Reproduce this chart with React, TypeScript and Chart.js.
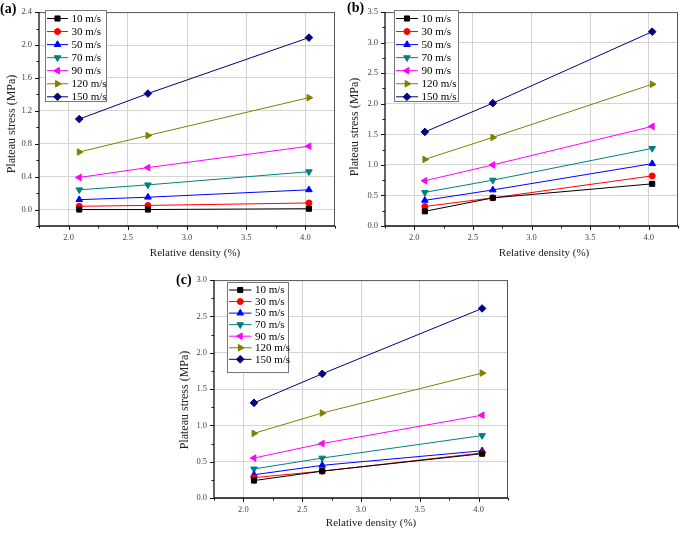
import React, { useEffect, useRef } from 'react';
import { Chart, registerables } from 'chart.js';
import { drawPoint } from 'chart.js/helpers';

Chart.register(...registerables);

// ---------- data ----------
const densities = [2.09, 2.67, 4.03];
const seriesLabels = ['10 m/s', '30 m/s', '50 m/s', '70 m/s', '90 m/s', '120 m/s', '150 m/s'];
const seriesColors = ['#000000', '#ff0000', '#0000ff', '#008080', '#ff00ff', '#808000', '#000080'];
const seriesShapes = ['rect', 'circle', 'triangle', 'triangle', 'triangle', 'triangle', 'rectRot'];
const seriesRotations = [0, 0, 0, 180, 270, 90, 0];
const seriesRadii = [3.6, 3, 3.8, 3.8, 3.8, 3.8, 3.8];

// panel (a)
const a10 = [0.0, 0.0, 0.01];
const a30 = [0.04, 0.05, 0.08];
const a50 = [0.12, 0.15, 0.24];
const a70 = [0.24, 0.3, 0.46];
const a90 = [0.39, 0.51, 0.77];
const a120 = [0.7, 0.9, 1.36];
const a150 = [1.1, 1.41, 2.09];

// panel (b)
const b10 = [0.24, 0.46, 0.69];
const b30 = [0.32, 0.46, 0.82];
const b50 = [0.42, 0.59, 1.02];
const b70 = [0.55, 0.75, 1.27];
const b90 = [0.74, 1.0, 1.63];
const b120 = [1.09, 1.45, 2.32];
const b150 = [1.54, 2.01, 3.18];

// panel (c)
const c10 = [0.24, 0.37, 0.61];
const c30 = [0.28, 0.37, 0.62];
const c50 = [0.32, 0.45, 0.65];
const c70 = [0.4, 0.55, 0.86];
const c90 = [0.55, 0.75, 1.14];
const c120 = [0.89, 1.17, 1.72];
const c150 = [1.31, 1.71, 2.61];

const xMin = 1.75;
const xMax = 4.25;
const xStep = 0.25;

const xTitle = 'Relative density (%)';
const yTitle = 'Plateau stress (MPa)';

const SERIF = "'Liberation Serif', 'Times New Roman', serif";

type PanelSpec = {
  letter: string;
  canvas: { left: number; top: number; width: number; height: number };
  area: { left: number; top: number; right: number; bottom: number };
  series: number[][];
  yMin: number;
  yMax: number;
  yStep: number;
  legend: { x0: number; x1: number; y0: number; y1: number; firstY: number; rowH: number; lineX0: number; lineX1: number; textX: number };
  yTitlePos: { x: number; y: number };
  xTitlePos: { x: number; y: number };
  letterPos: { x: number; y: number };
};

const panels: PanelSpec[] = [
  {
    letter: '(a)',
    canvas: { left: 0, top: 0, width: 342, height: 262 },
    area: { left: 39, top: 7, right: 335, bottom: 226 },
    series: [a10, a30, a50, a70, a90, a120, a150],
    yMin: -0.2,
    yMax: 2.4,
    yStep: 0.2,
    legend: { x0: 45, x1: 106, y0: 10, y1: 101, firstY: 18.5, rowH: 13.05, lineX0: 47, lineX1: 68, textX: 71.5 },
    yTitlePos: { x: 12, y: 124 },
    xTitlePos: { x: 195, y: 253 },
    letterPos: { x: 0, y: 9 },
  },
  {
    letter: '(b)',
    canvas: { left: 342, top: 0, width: 343, height: 262 },
    area: { left: 43, top: 5, right: 340, bottom: 226 },
    series: [b10, b30, b50, b70, b90, b120, b150],
    yMin: 0,
    yMax: 3.5,
    yStep: 0.25,
    legend: { x0: 52, x1: 116, y0: 10, y1: 101, firstY: 18.5, rowH: 13.05, lineX0: 54, lineX1: 76, textX: 79.5 },
    yTitlePos: { x: 13, y: 127 },
    xTitlePos: { x: 202, y: 253 },
    letterPos: { x: 5, y: 8 },
  },
  {
    letter: '(c)',
    canvas: { left: 160, top: 268, width: 360, height: 265 },
    area: { left: 54, top: 11, right: 348, bottom: 230 },
    series: [c10, c30, c50, c70, c90, c120, c150],
    yMin: 0,
    yMax: 3.0,
    yStep: 0.25,
    legend: { x0: 67, x1: 128, y0: 14, y1: 104, firstY: 22, rowH: 11.55, lineX0: 69, lineX1: 91.5, textX: 95 },
    yTitlePos: { x: 25, y: 132 },
    xTitlePos: { x: 211, y: 255 },
    letterPos: { x: 16, y: 12 },
  },
];

function tickValues(min: number, max: number, step: number): number[] {
  const out: number[] = [];
  const n = Math.round((max - min) / step);
  for (let i = 0; i <= n; i++) out.push(Math.round((min + i * step) * 1000) / 1000);
  return out;
}

function isMajor(v: number, step: number): boolean {
  return Math.abs(Math.round(v / step)) % 2 === 0;
}

function makeConfig(p: PanelSpec): any {
  const W = p.canvas.width;
  const H = p.canvas.height;
  const decoPlugin = {
    id: 'deco' + p.letter.replace(/[()]/g, ''),
    afterDraw(chart: any) {
      const ctx = chart.ctx;
      const { left, right, top, bottom } = chart.chartArea;
      const xs = chart.scales.x;
      const ys = chart.scales.y;
      ctx.save();
      // frame top/right
      ctx.lineWidth = 1;
      ctx.strokeStyle = '#555555';
      ctx.beginPath();
      ctx.moveTo(left, top + 0.5);
      ctx.lineTo(right, top + 0.5);
      ctx.moveTo(right - 0.5, top);
      ctx.lineTo(right - 0.5, bottom);
      ctx.stroke();
      // axes left/bottom
      ctx.strokeStyle = '#111111';
      ctx.lineWidth = 1.3;
      ctx.beginPath();
      ctx.moveTo(left, top);
      ctx.lineTo(left, bottom);
      ctx.lineTo(right, bottom);
      ctx.stroke();
      // ticks
      ctx.lineWidth = 1;
      ctx.beginPath();
      xs.ticks.forEach((t: any) => {
        const px = Math.round(xs.getPixelForValue(t.value)) + 0.5;
        const len = isMajor(t.value - 2, xStep) ? 4 : 2.5;
        ctx.moveTo(px, bottom);
        ctx.lineTo(px, bottom + len);
      });
      ys.ticks.forEach((t: any) => {
        const py = Math.round(ys.getPixelForValue(t.value)) + 0.5;
        const len = isMajor(t.value, p.yStep) ? 4 : 2.5;
        ctx.moveTo(left, py);
        ctx.lineTo(left - len, py);
      });
      ctx.stroke();

      // legend
      const L = p.legend;
      ctx.fillStyle = '#ffffff';
      ctx.fillRect(L.x0, L.y0, L.x1 - L.x0, L.y1 - L.y0);
      ctx.strokeStyle = '#777777';
      ctx.lineWidth = 1;
      ctx.strokeRect(L.x0 + 0.5, L.y0 + 0.5, L.x1 - L.x0, L.y1 - L.y0);
      seriesLabels.forEach((label, i) => {
        const y = L.firstY + i * L.rowH;
        ctx.strokeStyle = seriesColors[i];
        ctx.lineWidth = 1;
        ctx.beginPath();
        ctx.moveTo(L.lineX0, y);
        ctx.lineTo(L.lineX1, y);
        ctx.stroke();
        ctx.fillStyle = seriesColors[i];
        ctx.strokeStyle = seriesColors[i];
        drawPoint(ctx, { pointStyle: seriesShapes[i], rotation: seriesRotations[i], radius: seriesRadii[i], borderWidth: 1 } as any, (L.lineX0 + L.lineX1) / 2, y);
        ctx.fillStyle = '#000000';
        ctx.font = `11px ${SERIF}`;
        ctx.textAlign = 'left';
        ctx.textBaseline = 'middle';
        ctx.fillText(label, L.textX, y + 0.5);
      });

      // axis titles
      ctx.fillStyle = '#222222';
      ctx.font = `11px ${SERIF}`;
      ctx.textAlign = 'center';
      ctx.textBaseline = 'middle';
      ctx.fillText(xTitle, p.xTitlePos.x, p.xTitlePos.y);
      ctx.save();
      ctx.translate(p.yTitlePos.x, p.yTitlePos.y);
      ctx.rotate(-Math.PI / 2);
      ctx.font = `12px ${SERIF}`;
      ctx.fillText(yTitle, 0, 0);
      ctx.restore();

      // panel letter
      ctx.fillStyle = '#000000';
      ctx.font = `bold 14px ${SERIF}`;
      ctx.textAlign = 'left';
      ctx.textBaseline = 'middle';
      ctx.fillText(p.letter, p.letterPos.x, p.letterPos.y);
      ctx.restore();
    },
  };

  const xTicks = tickValues(xMin, xMax, xStep);
  const yTicks = tickValues(p.yMin, p.yMax, p.yStep);

  return {
    type: 'line',
    data: {
      datasets: p.series.map((vals, i) => ({
        label: seriesLabels[i],
        data: densities.map((x, j) => ({ x, y: vals[j] })),
        borderColor: seriesColors[i],
        backgroundColor: seriesColors[i],
        pointBackgroundColor: seriesColors[i],
        pointBorderColor: seriesColors[i],
        borderWidth: 1,
        pointStyle: seriesShapes[i],
        pointRotation: seriesRotations[i],
        pointRadius: seriesRadii[i],
        pointBorderWidth: 1,
        tension: 0,
        fill: false,
      })),
    },
    options: {
      responsive: false,
      maintainAspectRatio: false,
      animation: false,
      events: [],
      layout: {
        padding: { left: 0, top: p.area.top, right: W - p.area.right, bottom: 0 },
      },
      plugins: { legend: { display: false }, tooltip: { enabled: false }, title: { display: false } },
      scales: {
        x: {
          type: 'linear',
          min: xMin,
          max: xMax,
          afterFit: (s: any) => { s.height = H - p.area.bottom; },
          afterBuildTicks: (s: any) => { s.ticks = xTicks.map((v) => ({ value: v })); },
          border: { display: false },
          grid: {
            drawTicks: false,
            lineWidth: 1,
            color: (c: any) => (c.tick && isMajor(c.tick.value - 2, xStep) && c.tick.value > xMin && c.tick.value < xMax ? '#d4d4d4' : 'rgba(0,0,0,0)'),
          },
          ticks: {
            autoSkip: false,
            maxRotation: 0,
            padding: 7,
            color: '#444444',
            font: { family: SERIF, size: 8.5 },
            callback: (v: any) => (isMajor(Number(v) - 2, xStep) ? Number(v).toFixed(1) : ''),
          },
        },
        y: {
          type: 'linear',
          min: p.yMin,
          max: p.yMax,
          afterFit: (s: any) => { s.width = p.area.left; },
          afterBuildTicks: (s: any) => { s.ticks = yTicks.map((v) => ({ value: v })); },
          border: { display: false },
          grid: {
            drawTicks: false,
            lineWidth: 1,
            color: (c: any) => (c.tick && isMajor(c.tick.value, p.yStep) && c.tick.value < p.yMax ? '#d4d4d4' : 'rgba(0,0,0,0)'),
          },
          ticks: {
            autoSkip: false,
            padding: 7,
            color: '#444444',
            font: { family: SERIF, size: 8.5 },
            callback: (v: any) => (isMajor(Number(v), p.yStep) ? Number(v).toFixed(1) : ''),
          },
        },
      },
    },
    plugins: [decoPlugin],
  };
}

function Panel({ spec }: { spec: PanelSpec }) {
  const ref = useRef<HTMLCanvasElement | null>(null);
  useEffect(() => {
    if (!ref.current) return;
    const chart = new Chart(ref.current, makeConfig(spec));
    return () => chart.destroy();
  }, [spec]);
  return (
    <canvas
      ref={ref}
      width={spec.canvas.width}
      height={spec.canvas.height}
      style={{
        position: 'absolute',
        left: spec.canvas.left,
        top: spec.canvas.top,
        width: spec.canvas.width,
        height: spec.canvas.height,
      }}
    />
  );
}

export default function App() {
  return (
    <div style={{ position: 'fixed', left: 0, top: 0, width: 685, height: 533, background: '#ffffff', overflow: 'hidden' }}>
      {panels.map((p) => (
        <Panel key={p.letter} spec={p} />
      ))}
    </div>
  );
}
